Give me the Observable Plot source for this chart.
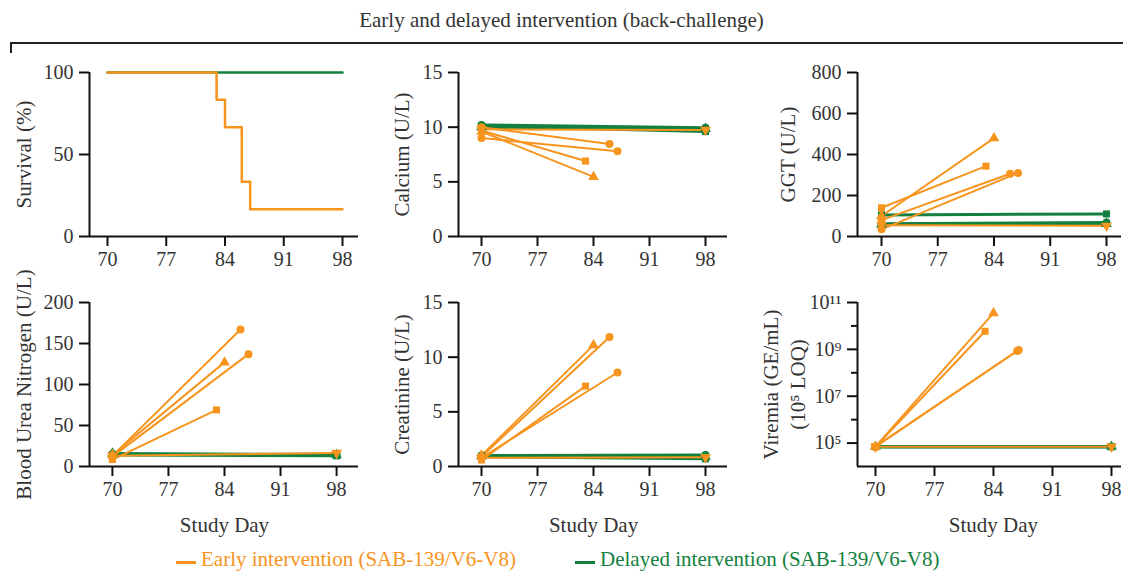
<!DOCTYPE html>
<html><head><meta charset="utf-8">
<script src="https://cdn.jsdelivr.net/npm/d3@7"></script>
<script src="https://cdn.jsdelivr.net/npm/@observablehq/plot@0.6"></script>
<style>
html,body{margin:0;padding:0;background:#fff;}
#root{position:relative;width:1123px;height:572px;overflow:hidden;font-family:"Liberation Serif","Times New Roman",Tinos,"DejaVu Serif",serif;color:#333;background:#fff;}
.panel{position:absolute;}
.panel svg{overflow:visible;}
#title{position:absolute;left:0;width:1123px;top:8px;text-align:center;font-size:21px;line-height:24px;color:#333;}
#bracket{position:absolute;left:10px;top:42px;width:1113px;height:11px;border-top:2px solid #222;border-left:2px solid #222;box-sizing:border-box;}
.sw{position:absolute;height:3px;width:20px;}
.lt{position:absolute;font-size:21px;line-height:24px;white-space:nowrap;}
</style>
</head><body>
<div id="root">
  <div id="title">Early and delayed intervention (back-challenge)</div>
  <div id="bracket"></div>
  <div id="legend"></div>
</div>
<script>
// ---------- data ----------
const groupNames = ["Early intervention (SAB-139/V6-V8)", "Delayed intervention (SAB-139/V6-V8)"];
const xTicks = [70, 77, 84, 91, 98];

// Survival (Kaplan-Meier)
const survivalDaysEarly = [70, 83, 84, 86, 87, 98];
const survivalEarly = [100, 83.33, 66.67, 33.33, 16.67, 16.67];
const survivalDaysDelayed = [70, 98];
const survivalDelayed = [100, 100];

// animals: 5 early (orange), 3 delayed (green)
const animalIds = ["E1", "E2", "E3", "E4", "E5", "D1", "D2", "D3"];
const animalGroup = [0, 0, 0, 0, 0, 1, 1, 1];
const animalSymbol = ["circle", "circle", "square", "triangle", "triangleDown", "circle", "square", "triangle"];
const startDay = 70;
const endDay = [86, 87, 83, 84, 98, 98, 98, 98];
const viremiaEndDay = [86.8, 87, 83, 84, 98, 98, 98, 98];

const calciumStart = [10.0, 9.0, 9.7, 9.6, 9.8, 10.2, 10.1, 10.0];
const calciumEnd   = [8.45, 7.8, 6.9, 5.45, 9.75, 9.95, 9.6, 9.85];

const ggtStart = [80, 35, 140, 100, 55, 62, 105, 58];
const ggtEnd   = [306, 310, 343, 480, 52, 68, 110, 62];

const bunStart = [13, 12, 8.5, 14, 13, 15, 14, 16];
const bunEnd   = [167, 137, 69, 127, 16.5, 15, 13, 14];

const creatStart = [0.9, 0.8, 0.6, 1.0, 0.8, 1.0, 0.9, 0.95];
const creatEnd   = [11.85, 8.6, 7.35, 11.1, 0.85, 1.05, 0.7, 0.9];

const viremiaStart = [7e4, 7e4, 7e4, 7e4, 7e4, 7e4, 7e4, 7e4];
const viremiaEnd   = [8.5e8, 9.5e8, 5.9e9, 3.5e10, 7e4, 7e4, 7e4, 7e4];

// ---------- style ----------
const COLORS = ["#F7941D", "#13803F"];
const AXIS = "#111", TEXT = "#333";
const FONT = "'Liberation Serif','Times New Roman',Tinos,'DejaVu Serif',serif";
const sqrt3 = Math.sqrt(3);
const triangleDown = {draw(ctx, size) {
  const y = -Math.sqrt(size / (sqrt3 * 3));
  ctx.moveTo(0, -2 * y);
  ctx.lineTo(-sqrt3 * y, y);
  ctx.lineTo(sqrt3 * y, y);
  ctx.closePath();
}};
const symbolOf = s => s === "triangleDown" ? triangleDown : s;

function labRows(starts, ends, days) {
  return animalIds.map((id, i) => [
    {id, g: animalGroup[i], day: startDay, v: starts[i]},
    {id, g: animalGroup[i], day: days[i], v: ends[i]}
  ]).flat();
}

function seriesMarks(rows) {
  const marks = [];
  for (const g of [1, 0]) {
    marks.push(Plot.line(rows.filter(r => r.g === g), {x: "day", y: "v", z: "id", stroke: COLORS[g], strokeWidth: g === 1 ? 3 : 2}));
  }
  for (const g of [1, 0]) {
    animalIds.forEach((id, i) => {
      if (animalGroup[i] !== g) return;
      marks.push(Plot.dot(rows.filter(r => r.id === id), {x: "day", y: "v", symbol: symbolOf(animalSymbol[i]), fill: COLORS[g], r: 4}));
    });
  }
  return marks;
}

function panel(cfg) {
  const {left, top, width, height, mL, mR, mT, mB, xDomain, yDomain, yType = "linear", yTicks, yMinor, yFormat, yLabel, labelDx, studyDay, marks} = cfg;
  const all = [
    ...marks,
    Plot.ruleX([xDomain[0]], {stroke: AXIS, strokeWidth: 2}),
    Plot.ruleY([yDomain[0]], {stroke: AXIS, strokeWidth: 2}),
    Plot.axisX({ticks: xTicks, tickSize: 10, tickPadding: 5, fontSize: 20, stroke: AXIS, strokeWidth: 2, fill: TEXT, label: null, tickFormat: d => String(d)}),
    Plot.axisY({ticks: yTicks, tickSize: 10, tickPadding: 6, fontSize: 20, stroke: AXIS, strokeWidth: 2, fill: TEXT, label: null, tickFormat: yFormat || (d => String(d))}),
    Plot.text([yLabel], {text: d => d, frameAnchor: "left", dx: labelDx, rotate: -90, textAnchor: "middle", lineAnchor: "middle", fontSize: 21, fill: TEXT, lineHeight: 1.3})
  ];
  if (yMinor) all.push(Plot.axisY({ticks: yMinor, tickSize: 6, stroke: AXIS, strokeWidth: 2, label: null, tickFormat: () => ""}));
  if (studyDay) all.push(Plot.text(["Study Day"], {text: d => d, x: () => 84, frameAnchor: "bottom", dy: 59, textAnchor: "middle", lineAnchor: "middle", fontSize: 21, fill: TEXT}));
  const chart = Plot.plot({
    width, height, marginLeft: mL, marginRight: mR, marginTop: mT, marginBottom: mB,
    style: {fontFamily: FONT, fontSize: "20px", background: "transparent", color: TEXT, overflow: "visible"},
    x: {domain: xDomain},
    y: {domain: yDomain, type: yType},
    marks: all
  });
  const div = document.createElement("div");
  div.className = "panel";
  div.style.left = left + "px";
  div.style.top = top + "px";
  div.appendChild(chart);
  document.getElementById("root").appendChild(div);
}

// survival
const survRows = [
  ...survivalDaysDelayed.map((d, i) => ({g: 1, day: d, v: survivalDelayed[i]})),
  ...survivalDaysEarly.map((d, i) => ({g: 0, day: d, v: survivalEarly[i]}))
];
const supers = {"0":"⁰","1":"¹","2":"²","3":"³","4":"⁴","5":"⁵","6":"⁶","7":"⁷","8":"⁸","9":"⁹"};
const powFmt = d => "10" + String(Math.round(Math.log10(d))).split("").map(c => supers[c]).join("");

const TOP = {top: 52, height: 230, mT: 20, mB: 46};
const BOT = {top: 282, height: 258, mT: 20, mB: 74};
const C1 = {left: 0, width: 370, mL: 89, mR: 12};
const C2 = {left: 370, width: 370, mL: 88, mR: 13};
const C3 = {left: 740, width: 383, mL: 117, mR: 2};

panel({...TOP, ...C1, xDomain: [67.855, 99.906], yDomain: [0, 100], yTicks: [0, 50, 100], yLabel: "Survival (%)", labelDx: -67,
  marks: [1, 0].map(g => Plot.line(survRows.filter(r => r.g === g), {x: "day", y: "v", stroke: COLORS[g], strokeWidth: 2.5, curve: "step-after"}))});

panel({...TOP, ...C2, xDomain: [67.125, 100.75], yDomain: [0, 15], yTicks: [0, 5, 10, 15], yLabel: "Calcium (U/L)", labelDx: -58,
  marks: seriesMarks(labRows(calciumStart, calciumEnd, endDay))});

panel({...TOP, ...C3, xDomain: [67.013, 99.867], yDomain: [0, 800], yTicks: [0, 200, 400, 600, 800], yLabel: "GGT (U/L)", labelDx: -71,
  marks: seriesMarks(labRows(ggtStart, ggtEnd, endDay))});

panel({...BOT, ...C1, xDomain: [67.138, 100.738], yDomain: [0, 200], yTicks: [0, 50, 100, 150, 200], yLabel: "Blood Urea Nitrogen (U/L)", labelDx: -67, studyDay: true,
  marks: seriesMarks(labRows(bunStart, bunEnd, endDay))});

panel({...BOT, ...C2, xDomain: [67.125, 100.75], yDomain: [0, 15], yTicks: [0, 5, 10, 15], yLabel: "Creatinine (U/L)", labelDx: -58, studyDay: true,
  marks: seriesMarks(labRows(creatStart, creatEnd, endDay))});

panel({...BOT, ...C3, xDomain: [67.865, 99.19], yDomain: [1e4, 1e11], yType: "log", yTicks: [1e5, 1e7, 1e9, 1e11], yMinor: [1e6, 1e8, 1e10], yFormat: powFmt,
  yLabel: "Viremia (GE/mL)\n(10⁵ LOQ)", labelDx: -75, studyDay: true,
  marks: seriesMarks(labRows(viremiaStart, viremiaEnd, viremiaEndDay))});

// legend
const legend = document.getElementById("legend");
const legendX = [176, 575];
groupNames.forEach((name, g) => {
  const sw = document.createElement("div");
  sw.className = "sw";
  sw.style.left = legendX[g] + "px";
  sw.style.top = "561px";
  sw.style.background = COLORS[g];
  legend.appendChild(sw);
  const t = document.createElement("div");
  t.className = "lt";
  t.style.left = (legendX[g] + 25) + "px";
  t.style.top = "547px";
  t.style.color = COLORS[g];
  t.textContent = name;
  legend.appendChild(t);
});
</script>
</body></html>
